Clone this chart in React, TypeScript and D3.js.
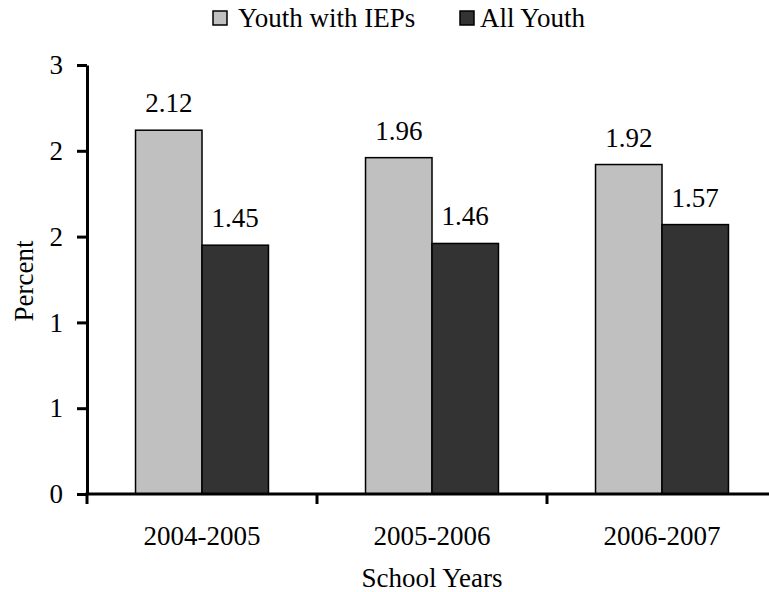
import { useEffect, useRef } from "react";
import * as d3 from "d3";

const schoolYears = ["2004-2005", "2005-2006", "2006-2007"];
const seriesNames = ["Youth with IEPs", "All Youth"];
const iepValues = [2.12, 1.96, 1.92];
const allYouthValues = [1.45, 1.46, 1.57];
const yTicks = [0, 0.5, 1, 1.5, 2, 2.5];

const W = 769;
const H = 592;
const FONT = "Liberation Serif";
const FS = "27px";
const COLORS = ["#c0c0c0", "#333333"];

export default function App() {
  const svgRef = useRef<SVGSVGElement>(null);

  useEffect(() => {
    if (!svgRef.current) return;
    const svg = d3.select(svgRef.current);
    svg.selectAll("*").remove();

    const left = 87, right = 777, top = 65, bottom = 494;

    const x0 = d3.scaleBand<string>().domain(schoolYears).range([left, right]);
    const x1 = d3
      .scaleBand<string>()
      .domain(seriesNames)
      .range([0, x0.bandwidth()])
      .paddingInner(0)
      .paddingOuter(0.73);
    const y = d3.scaleLinear().domain([0, 2.5]).range([bottom, top]);

    const rows = schoolYears.map((yr, i) => ({
      year: yr,
      vals: [iepValues[i], allYouthValues[i]],
    }));

    // bars
    const groups = svg
      .append("g")
      .selectAll("g")
      .data(rows)
      .join("g")
      .attr("transform", (d) => `translate(${x0(d.year)},0)`);

    groups
      .selectAll("rect")
      .data((d) => d.vals.map((v, k) => ({ v, k })))
      .join("rect")
      .attr("x", (d) => x1(seriesNames[d.k])!)
      .attr("y", (d) => y(d.v))
      .attr("width", x1.bandwidth())
      .attr("height", (d) => bottom - y(d.v))
      .attr("fill", (d) => COLORS[d.k])
      .attr("stroke", "#000")
      .attr("stroke-width", 1.5);

    groups
      .selectAll("text")
      .data((d) => d.vals.map((v, k) => ({ v, k })))
      .join("text")
      .attr("x", (d) => x1(seriesNames[d.k])! + x1.bandwidth() / 2)
      .attr("y", (d) => y(d.v) - 18)
      .attr("text-anchor", "middle")
      .style("font-family", FONT)
      .style("font-size", FS)
      .attr("fill", "#000")
      .text((d) => d.v.toFixed(2));

    // y axis
    const yAxis = d3
      .axisLeft(y)
      .tickValues(yTicks)
      .tickFormat((d) => String(Math.round(+d)))
      .tickSize(10)
      .tickSizeOuter(0)
      .tickPadding(14);
    const yg = svg.append("g").attr("transform", `translate(${left},0)`).call(yAxis);
    yg.attr("font-family", null).attr("font-size", null);
    yg.select(".domain").attr("stroke", "#000").attr("stroke-width", 3);
    yg.selectAll(".tick line").attr("stroke", "#000").attr("stroke-width", 3);
    yg.selectAll(".tick text")
      .style("font-family", FONT)
      .style("font-size", FS)
      .attr("fill", "#000");

    // x axis
    const xg = svg.append("g");
    xg.append("line")
      .attr("x1", left - 1.5)
      .attr("x2", right)
      .attr("y1", bottom)
      .attr("y2", bottom)
      .attr("stroke", "#000")
      .attr("stroke-width", 3);
    const bounds = [...schoolYears.map((s) => x0(s)!), right];
    xg.selectAll("line.tick")
      .data(bounds)
      .join("line")
      .attr("class", "tick")
      .attr("x1", (d) => d)
      .attr("x2", (d) => d)
      .attr("y1", bottom)
      .attr("y2", bottom + 10)
      .attr("stroke", "#000")
      .attr("stroke-width", 3);
    xg.selectAll("text")
      .data(schoolYears)
      .join("text")
      .attr("x", (d) => x0(d)! + x0.bandwidth() / 2)
      .attr("y", 545)
      .attr("text-anchor", "middle")
      .style("font-family", FONT)
      .style("font-size", FS)
      .text((d) => d);

    // axis titles
    svg
      .append("text")
      .attr("x", (left + right) / 2)
      .attr("y", 587)
      .attr("text-anchor", "middle")
      .style("font-family", FONT)
      .style("font-size", FS)
      .text("School Years");
    svg
      .append("text")
      .attr("transform", "translate(33,281) rotate(-90)")
      .attr("text-anchor", "middle")
      .style("font-family", FONT)
      .style("font-size", FS)
      .text("Percent");

    // legend
    const legendX = [213, 460];
    const legendGap = [11, 6];
    const lg = svg
      .append("g")
      .selectAll("g")
      .data(seriesNames)
      .join("g")
      .attr("transform", (_, i) => `translate(${legendX[i]},0)`);
    lg.append("rect")
      .attr("x", 0)
      .attr("y", 11)
      .attr("width", 14)
      .attr("height", 14)
      .attr("fill", (_, i) => COLORS[i])
      .attr("stroke", "#000")
      .attr("stroke-width", 1.5);
    lg.append("text")
      .attr("x", (_, i) => 14 + legendGap[i])
      .attr("y", 27)
      .style("font-family", FONT)
      .style("font-size", FS)
      .text((d) => d);
  }, []);

  return (
    <svg
      ref={svgRef}
      width={W}
      height={H}
      style={{ position: "absolute", left: 0, top: 0, background: "#fff" }}
    />
  );
}
